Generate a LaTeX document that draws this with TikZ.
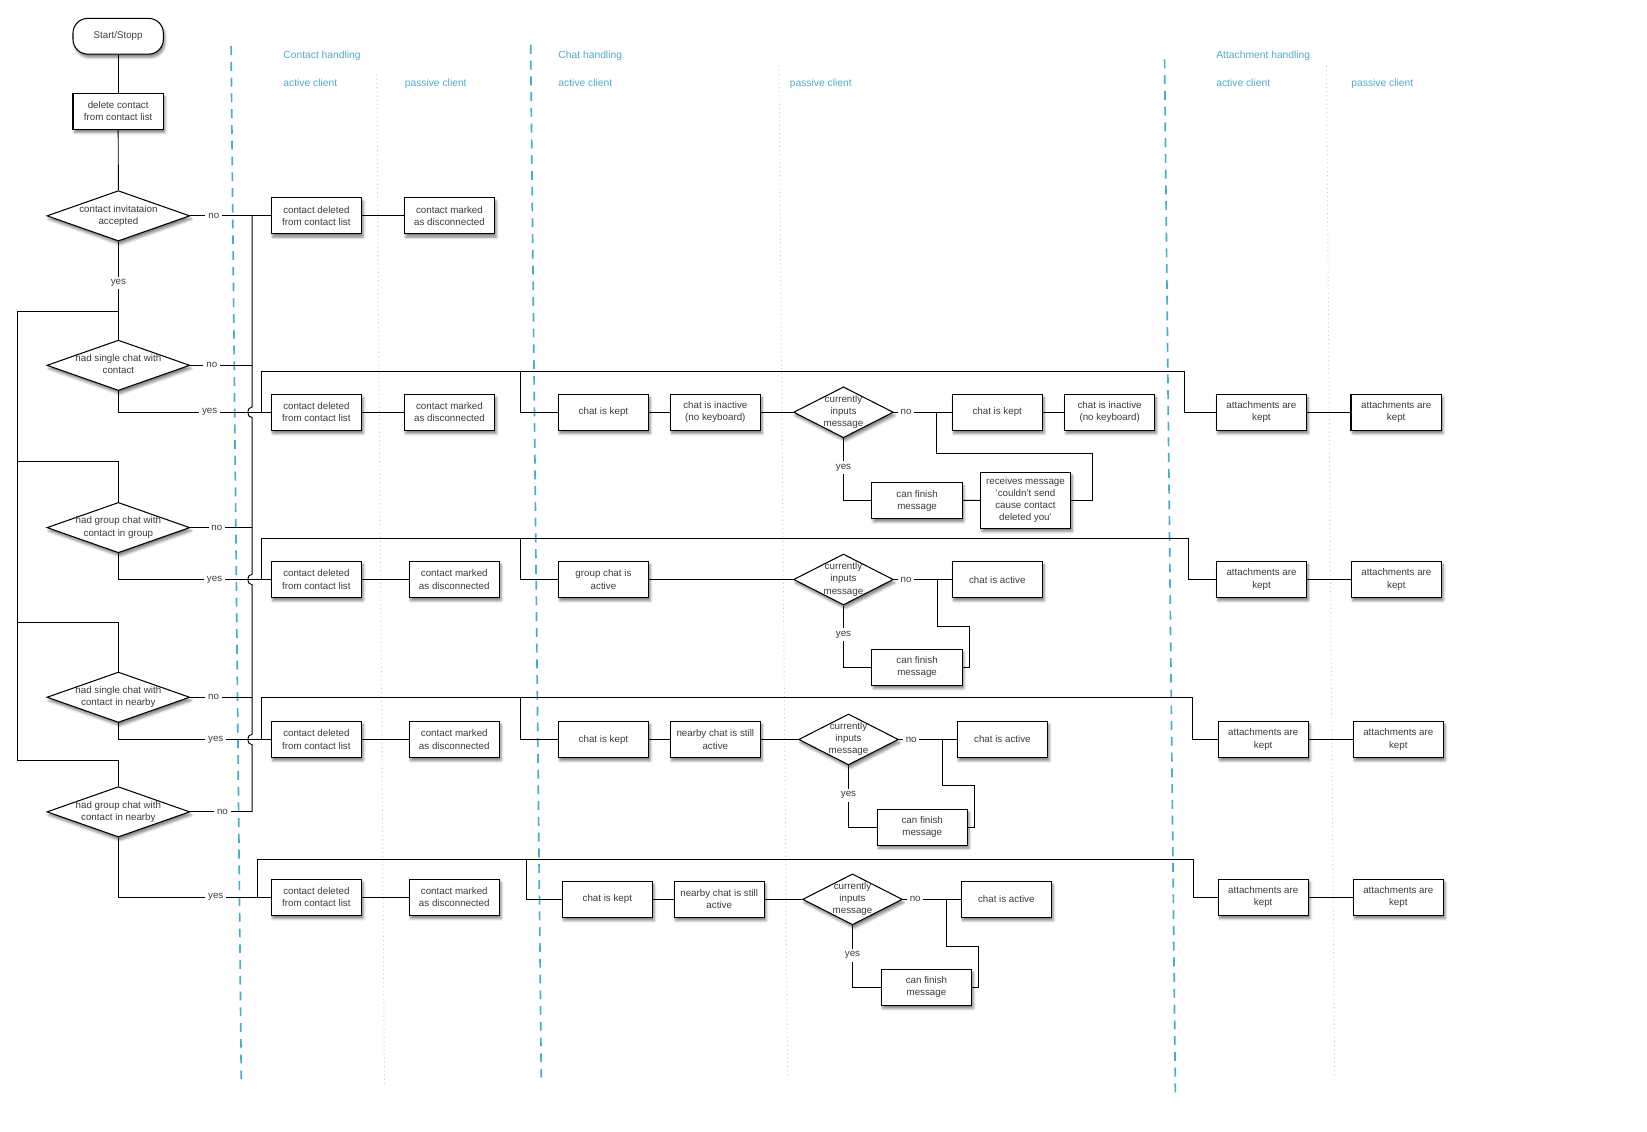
\documentclass[tikz,border=0pt]{standalone}
\usepackage{fontspec}
\setmainfont{Liberation Sans}
\usetikzlibrary{shapes.geometric,shadows.blur}
\definecolor{lanecol}{HTML}{4AADC8}
\definecolor{lanelite}{HTML}{A9DAE9}
\definecolor{txtcol}{HTML}{3C3C3C}
\newcommand{\dtxt}[1]{\makebox[0pt][c]{\begin{tabular}{@{}c@{}}#1\end{tabular}}}
\begin{document}
\begin{tikzpicture}[x=1pt,y=-1pt,
  nfont/.style={font=\fontsize{9.3}{11.5}\selectfont, text=txtcol},
  shad/.style={blur shadow={shadow xshift=1.5pt, shadow yshift=-3pt, shadow blur radius=2.5pt, shadow opacity=50}},
  box/.style={nfont, draw, line width=1pt, fill=white, minimum width=86pt, minimum height=34.3pt, inner sep=1pt, align=center, shad},
  tallbox/.style={box, minimum height=53.4pt},
  startbox/.style={box, rounded corners=14pt, minimum height=34pt},
  dia/.style={nfont, shape=diamond, draw, line width=1pt, fill=white, inner sep=0pt, shad, minimum width=136pt, minimum height=48pt},
  qdia/.style={dia, minimum width=95pt, minimum height=48.5pt},
  lbl/.style={nfont, inner sep=2.5pt},
  conn/.style={line width=0.9pt, draw=black},
  hdr/.style={font=\fontsize{9.8}{12}\selectfont, text=lanecol, anchor=base west, inner sep=0pt},
  lanedash/.style={draw=lanecol, line width=1.6pt, dash pattern=on 8.5pt off 6.5pt},
  lanedot/.style={draw=lanelite, line width=0.9pt, dash pattern=on 1pt off 3pt}
]
\useasboundingbox (0,0) rectangle (1568,1077);

% swim lanes
\draw[lanedash] (220,44) -- (229.7,1027.5);
\draw[lanedash] (505.2,42.8) -- (515.3,1026);
\draw[lanedash] (1108.7,56.5) -- (1119,1040);
\draw[lanedot] (358.7,71) -- (366,1032);
\draw[lanedot] (741.6,62.8) -- (749.8,1024);
\draw[lanedot] (1262.8,62.8) -- (1270.6,1024);

% headers
\node[hdr] (hc) at (269.6,55.5) {Contact handling};
\node[hdr] (hca) at (269.6,82) {active client};
\node[hdr] (hcp) at (385.2,82) {passive client};
\node[hdr] (hch) at (531.5,55.5) {Chat handling};
\node[hdr] (hcha) at (531.5,82) {active client};
\node[hdr] (hchp) at (751.8,82) {passive client};
\node[hdr] (hat) at (1157.8,55.5) {Attachment handling};
\node[hdr] (hata) at (1157.8,82) {active client};
\node[hdr] (hatp) at (1286.4,82) {passive client};

% left column
\node[startbox] (start) at (112.5,34.5) {Start/Stopp};
\node[box] (del) at (112.5,106) {delete contact\\from contact list};
\node[dia] (d1) at (112.7,205.5) {\dtxt{contact invitataion\\accepted}};
\node[dia] (d2) at (112.7,347.8) {\dtxt{had single chat with\\contact}};
\node[dia] (d3) at (112.7,502.3) {\dtxt{had group chat with\\contact in group}};
\node[dia] (d4) at (112.7,663.8) {\dtxt{had single chat with\\contact in nearby}};
\node[dia] (d5) at (112.7,772.9) {\dtxt{had group chat with\\contact in nearby}};

\node[lbl] (yes1) at (112.7,269.4) {yes};
\node[lbl] (no1) at (203.5,205.5) {no};
\node[lbl] (no2) at (201.6,347.8) {no};
\node[lbl] (no3) at (206.4,502.3) {no};
\node[lbl] (no4) at (203.3,663.8) {no};
\node[lbl] (no5) at (211.8,772.9) {no};
\node[lbl] (yes2) at (199.6,392.5) {yes};
\node[lbl] (yes3) at (204.3,551.7) {yes};
\node[lbl] (yes4) at (205.4,704) {yes};
\node[lbl] (yes5) at (205.4,854.3) {yes};

% row 1
\node[box] (cd1) at (301.2,205.5) {contact deleted\\from contact list};
\node[box] (cm1) at (427.9,205.5) {contact marked\\as disconnected};

% row 2
\node[box] (cd2) at (301.2,392.5) {contact deleted\\from contact list};
\node[box] (cm2) at (427.9,392.5) {contact marked\\as disconnected};
\node[box] (ck2) at (574.5,392.5) {chat is kept};
\node[box] (ci2) at (681,392.5) {chat is inactive\\(no keyboard)};
\node[qdia] (q2) at (803,392.5) {\dtxt{currently\\inputs\\message}};
\node[lbl] (qn2) at (862.6,392.5) {no};
\node[box] (pk2) at (949.4,392.5) {chat is kept};
\node[box] (pi2) at (1056.4,392.5) {chat is inactive\\(no keyboard)};
\node[lbl] (qy2) at (803,445.2) {yes};
\node[box] (cf2) at (873.1,476.5) {can finish\\message};
\node[tallbox] (rm2) at (976.3,476.3) {receives message\\'couldn't send\\cause contact\\deleted you'};
\node[box] (ak2) at (1200.9,392.5) {attachments are\\kept};
\node[box] (ap2) at (1329.2,392.5) {attachments are\\kept};

% row 3
\node[box] (cd3) at (301.2,551.7) {contact deleted\\from contact list};
\node[box] (cm3) at (432.5,551.7) {contact marked\\as disconnected};
\node[box] (gc3) at (574.5,551.7) {group chat is\\active};
\node[qdia] (q3) at (803,551.7) {\dtxt{currently\\inputs\\message}};
\node[lbl] (qn3) at (862.6,551.7) {no};
\node[box] (pa3) at (949.4,551.7) {chat is active};
\node[lbl] (qy3) at (803,604.5) {yes};
\node[box] (cf3) at (873.1,635.2) {can finish\\message};
\node[box] (ak3) at (1201,551.7) {attachments are\\kept};
\node[box] (ap3) at (1329.4,551.7) {attachments are\\kept};

% row 4
\node[box] (cd4) at (301.2,704) {contact deleted\\from contact list};
\node[box] (cm4) at (432.5,704) {contact marked\\as disconnected};
\node[box] (ck4) at (574.5,704) {chat is kept};
\node[box] (nc4) at (681,704) {nearby chat is still\\active};
\node[qdia] (q4) at (807.8,704) {\dtxt{currently\\inputs\\message}};
\node[lbl] (qn4) at (867.5,704) {no};
\node[box] (pa4) at (954.3,704) {chat is active};
\node[lbl] (qy4) at (807.8,756.9) {yes};
\node[box] (cf4) at (878,787.5) {can finish\\message};
\node[box] (ak4) at (1202.6,704) {attachments are\\kept};
\node[box] (ap4) at (1331.2,704) {attachments are\\kept};

% row 5
\node[box] (cd5) at (301.2,854.3) {contact deleted\\from contact list};
\node[box] (cm5) at (432.5,854.3) {contact marked\\as disconnected};
\node[box] (ck5) at (578.2,856.2) {chat is kept};
\node[box] (nc5) at (684.7,856.2) {nearby chat is still\\active};
\node[qdia] (q5) at (811.6,856.2) {\dtxt{currently\\inputs\\message}};
\node[lbl] (qn5) at (871.3,856.2) {no};
\node[box] (pa5) at (958,856.2) {chat is active};
\node[lbl] (qy5) at (811.6,909.5) {yes};
\node[box] (cf5) at (882,940) {can finish\\message};
\node[box] (ak5) at (1202.6,854.3) {attachments are\\kept};
\node[box] (ap5) at (1331.2,854.3) {attachments are\\kept};

% junction coordinates
\coordinate (j0) at (112.7,296.7);
\coordinate (L0) at (16.7,296.7);
\coordinate (L3) at (16.7,439.5);
\coordinate (L4) at (16.7,592.8);
\coordinate (L5) at (16.7,723.8);
\coordinate (bus1) at (240,205.5);
\coordinate (bus2) at (240,347.8);
\coordinate (bus3) at (240,502.3);
\coordinate (bus4) at (240,663.8);
\coordinate (bus5) at (240,772.9);
\coordinate (s2) at (248.5,392.5);
\coordinate (t2) at (1127.6,353.5);
\coordinate (c2) at (495.6,353.5);
\coordinate (b2) at (891.6,392.5);
\coordinate (e2) at (1039.9,431.6);
\coordinate (s3) at (248.5,551.7);
\coordinate (t3) at (1131.3,512.5);
\coordinate (c3) at (495.6,512.5);
\coordinate (b3) at (892.3,551.7);
\coordinate (e3) at (922.9,596.6);
\coordinate (s4) at (248.5,704);
\coordinate (t4) at (1135.3,663.9);
\coordinate (c4) at (495.6,663.9);
\coordinate (b4) at (897.3,704);
\coordinate (e4) at (927.4,747.6);
\coordinate (s5) at (244.8,854.3);
\coordinate (t5) at (1136.2,818.7);
\coordinate (c5) at (501.6,818.7);
\coordinate (b5) at (901,856.2);
\coordinate (e5) at (931.5,900.9);

% main spine
\draw[conn] (start) -- (del);
\draw[conn] (del) -- (d1);
\draw[conn] (d1) -- (yes1);
\draw[conn] (yes1) -- (j0) -- (d2);
\draw[conn] (j0) -- (L0) -- (L5) -| (d5.north);
\draw[conn] (L3) -| (d3.north);
\draw[conn] (L4) -| (d4.north);

% "no" branches and bus
\draw[conn] (d1) -- (no1);
\draw[conn] (no1) -- (cd1);
\draw[conn] (cd1) -- (cm1);
\draw[conn] (d2) -- (no2); \draw[conn] (no2) -- (bus2);
\draw[conn] (d3) -- (no3); \draw[conn] (no3) -- (bus3);
\draw[conn] (d4) -- (no4); \draw[conn] (no4) -- (bus4);
\draw[conn] (d5) -- (no5); \draw[conn] (no5) -- (bus5);
\draw[conn] (bus1) -- (240,387.5) .. controls (234.5,387.5) and (234.5,397.5) .. (240,397.5)
  -- (240,546.7) .. controls (234.5,546.7) and (234.5,556.7) .. (240,556.7)
  -- (240,699) .. controls (234.5,699) and (234.5,709) .. (240,709) -- (bus5);

% row 2
\draw[conn] (d2) |- (yes2);
\draw[conn] (yes2) -- (cd2);
\draw[conn] (cd2) -- (cm2);
\draw[conn] (s2) |- (t2) |- (ak2);
\draw[conn] (c2) |- (ck2);
\draw[conn] (ck2) -- (ci2);
\draw[conn] (ci2) -- (q2);
\draw[conn] (q2) -- (qn2);
\draw[conn] (qn2) -- (pk2);
\draw[conn] (pk2) -- (pi2);
\draw[conn] (b2) |- (e2) |- (rm2);
\draw[conn] (q2) -- (qy2);
\draw[conn] (qy2) |- (cf2);
\draw[conn] (cf2) -- (rm2);
\draw[conn] (ak2) -- (ap2);

% row 3
\draw[conn] (d3) |- (yes3);
\draw[conn] (yes3) -- (cd3);
\draw[conn] (cd3) -- (cm3);
\draw[conn] (s3) |- (t3) |- (ak3);
\draw[conn] (c3) |- (gc3);
\draw[conn] (gc3) -- (q3);
\draw[conn] (q3) -- (qn3);
\draw[conn] (qn3) -- (pa3);
\draw[conn] (b3) |- (e3) |- (cf3);
\draw[conn] (q3) -- (qy3);
\draw[conn] (qy3) |- (cf3);
\draw[conn] (ak3) -- (ap3);

% row 4
\draw[conn] (d4) |- (yes4);
\draw[conn] (yes4) -- (cd4);
\draw[conn] (cd4) -- (cm4);
\draw[conn] (s4) |- (t4) |- (ak4);
\draw[conn] (c4) |- (ck4);
\draw[conn] (ck4) -- (nc4);
\draw[conn] (nc4) -- (q4);
\draw[conn] (q4) -- (qn4);
\draw[conn] (qn4) -- (pa4);
\draw[conn] (b4) |- (e4) |- (cf4);
\draw[conn] (q4) -- (qy4);
\draw[conn] (qy4) |- (cf4);
\draw[conn] (ak4) -- (ap4);

% row 5
\draw[conn] (d5) |- (yes5);
\draw[conn] (yes5) -- (cd5);
\draw[conn] (cd5) -- (cm5);
\draw[conn] (s5) |- (t5) |- (ak5);
\draw[conn] (c5) |- (ck5);
\draw[conn] (ck5) -- (nc5);
\draw[conn] (nc5) -- (q5);
\draw[conn] (q5) -- (qn5);
\draw[conn] (qn5) -- (pa5);
\draw[conn] (b5) |- (e5) |- (cf5);
\draw[conn] (q5) -- (qy5);
\draw[conn] (qy5) |- (cf5);
\draw[conn] (ak5) -- (ap5);
\end{tikzpicture}
\end{document}
